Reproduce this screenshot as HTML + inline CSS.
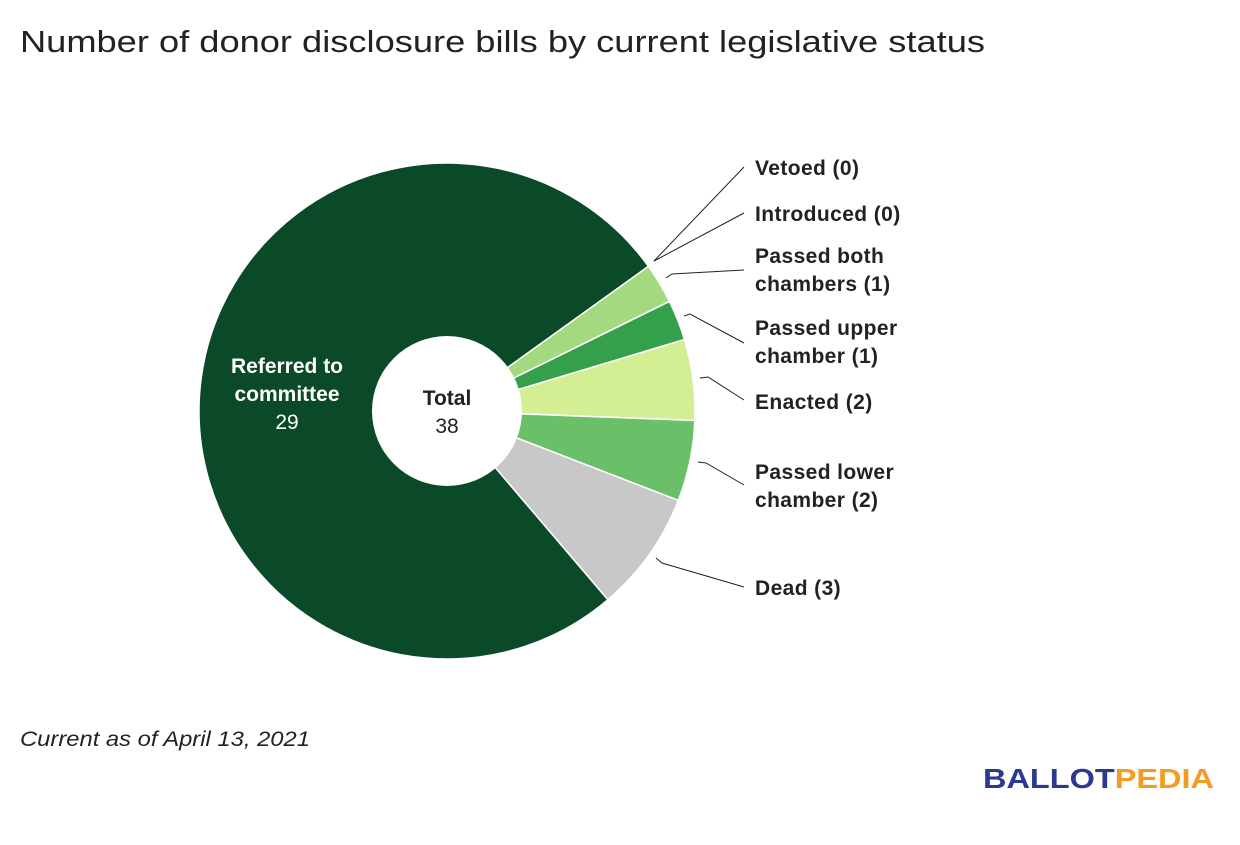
<!DOCTYPE html>
<html><head><meta charset="utf-8"><style>
body{margin:0;background:#fff;width:1240px;height:840px;overflow:hidden;font-family:"Liberation Sans",sans-serif}
</style></head><body>
<svg id="s" width="1240" height="840" xmlns="http://www.w3.org/2000/svg" font-family="Liberation Sans, sans-serif">
<text x="20" y="52" font-size="31" fill="#222" textLength="965" lengthAdjust="spacingAndGlyphs">Number of donor disclosure bills by current legislative status</text>
<g id="pie"></g>
<circle cx="447" cy="411" r="75" fill="#fff"/>
<g stroke="#222" stroke-width="1" fill="none">
<polyline points="654,261 744,167"/>
<polyline points="654,261 744,213"/>
<polyline points="666,278 672,274 744,270"/>
<polyline points="684,316 690,314 744,343"/>
<polyline points="700,378 708,377 744,400"/>
<polyline points="698,462 706,463 744,485"/>
<polyline points="656,558 662,563 744,587"/>
</g>
<g font-size="21" fill="#222" font-weight="bold" letter-spacing="0.4">
<text x="755" y="175">Vetoed (0)</text>
<text x="755" y="221">Introduced (0)</text>
<text x="755" y="263">Passed both</text>
<text x="755" y="291">chambers (1)</text>
<text x="755" y="335">Passed upper</text>
<text x="755" y="363">chamber (1)</text>
<text x="755" y="409">Enacted (2)</text>
<text x="755" y="479">Passed lower</text>
<text x="755" y="507">chamber (2)</text>
<text x="755" y="595">Dead (3)</text>
</g>
<g font-size="21" fill="#fff" text-anchor="middle">
<text x="287" y="373" font-weight="bold">Referred to</text>
<text x="287" y="401" font-weight="bold">committee</text>
<text x="287" y="429">29</text>
</g>
<g font-size="21" fill="#222" text-anchor="middle">
<text x="447" y="405" font-weight="bold">Total</text>
<text x="447" y="433">38</text>
</g>
<text x="20" y="746" font-size="21" font-style="italic" fill="#222" textLength="290" lengthAdjust="spacingAndGlyphs">Current as of April 13, 2021</text>
<text x="983" y="788" font-size="28" font-weight="bold" textLength="231" lengthAdjust="spacingAndGlyphs"><tspan fill="#2b3990">BALLOT</tspan><tspan fill="#f39c1f">PEDIA</tspan></text>
</svg>
<script>
var cx=447,cy=411,R=248;
var data=[[1,"#a3d97f"],[1,"#35a04c"],[2,"#d4ee93"],[2,"#6abf69"],[3,"#c8c8c8"],[29,"#0b4a29"]];
var a=54.3,g=document.getElementById("pie"),out="";
function pt(d){var t=d*Math.PI/180;return [cx+R*Math.sin(t),cy-R*Math.cos(t)];}
data.forEach(function(s){var sweep=s[0]/38*360,b=a+sweep,p1=pt(a),p2=pt(b);
out+='<path d="M'+cx+','+cy+' L'+p1[0]+','+p1[1]+' A'+R+','+R+' 0 '+(sweep>180?1:0)+' 1 '+p2[0]+','+p2[1]+' Z" fill="'+s[1]+'" stroke="#fff" stroke-width="1.5"/>';a=b;});
g.innerHTML=out;
</script>
</body></html>
